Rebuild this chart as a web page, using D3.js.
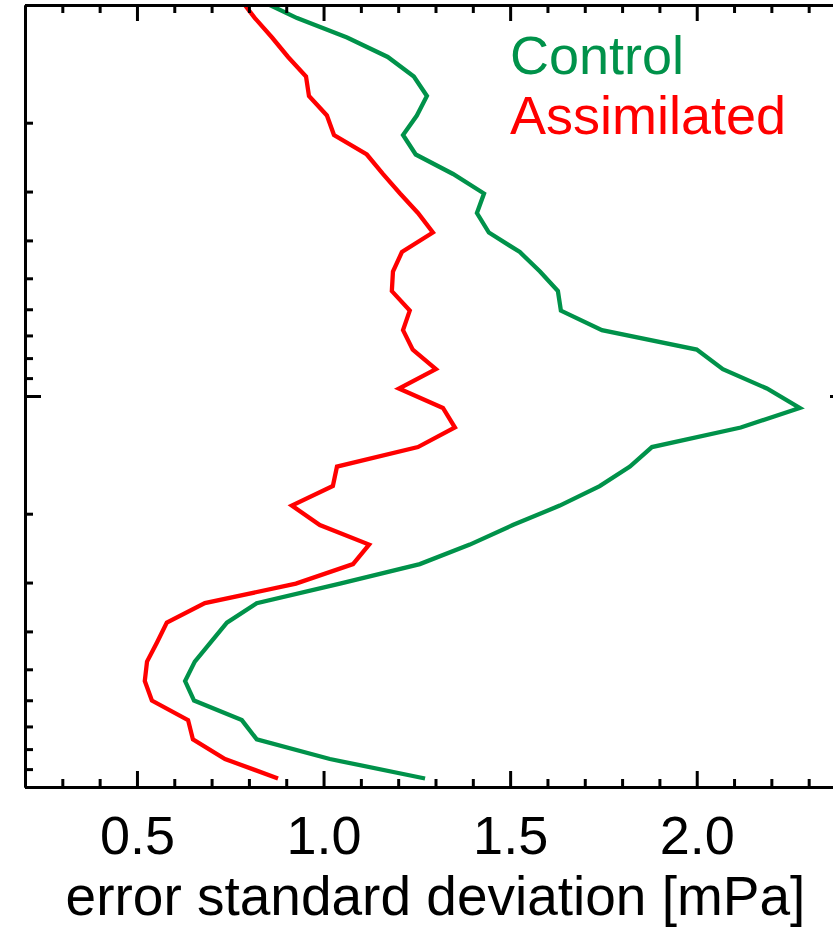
<!DOCTYPE html>
<html>
<head>
<meta charset="utf-8">
<script src="https://cdn.jsdelivr.net/npm/d3@7"></script>
<style>
  body { margin: 0; background: #fff; }
  svg { display: block; font-family: "Liberation Sans", Arial, Helvetica, sans-serif; }
  .axis path, .axis line { stroke: #000; stroke-width: 3; }
</style>
</head>
<body>
<div id="chart"></div>
<script>
// Levels on the log axis (top of frame down to bottom)
const levels = [0.1, 0.108, 0.1211, 0.1358, 0.1523, 0.1709, 0.1917, 0.2150, 0.2412, 0.2705,
  0.3035, 0.3404, 0.3819, 0.4284, 0.4805, 0.5391, 0.6047, 0.6783, 0.7609, 0.8535,
  0.9568, 1.0732, 1.2040, 1.3507, 1.5150, 1.6996, 1.9066, 2.1387, 2.3991, 2.6914,
  3.0190, 3.3867, 3.7993, 4.2621, 4.7774, 5.3583, 6.0107, 6.7432, 7.5563, 8.4800, 9.512];

// error standard deviation [mPa]
const control = [0.856, 0.929, 1.063, 1.172, 1.242, 1.277, 1.250, 1.213, 1.247, 1.347,
  1.430, 1.411, 1.443, 1.526, 1.580, 1.628, 1.636, 1.746, 2.000, 2.070,
  2.188, 2.276, 2.118, 1.880, 1.821, 1.740, 1.633, 1.507, 1.392, 1.258,
  1.044, 0.821, 0.741, 0.698, 0.655, 0.629, 0.653, 0.781, 0.821, 1.017, 1.272];

const assimilated = [0.789, 0.816, 0.862, 0.905, 0.953, 0.961, 1.009, 1.028, 1.116, 1.159,
  1.205, 1.253, 1.293, 1.210, 1.186, 1.183, 1.231, 1.213, 1.239, 1.301,
  1.202, 1.320, 1.352, 1.253, 1.036, 1.025, 0.915, 0.990, 1.122, 1.079,
  0.926, 0.682, 0.580, 0.554, 0.527, 0.521, 0.540, 0.637, 0.650, 0.736, 0.878];

const seriesNames = ["Control", "Assimilated"];
const seriesColors = ["#00924a", "#ff0000"];

const xMajor = [0.5, 1.0, 1.5, 2.0];
const xMinor = [0.3, 0.4, 0.6, 0.7, 0.8, 0.9, 1.1, 1.2, 1.3, 1.4, 1.6, 1.7, 1.8, 1.9, 2.1, 2.2, 2.3];
const yMajor = [0.1, 1, 10];
const yMinor = [0.2, 0.3, 0.4, 0.5, 0.6, 0.7, 0.8, 0.9, 2, 3, 4, 5, 6, 7, 8, 9];

// Frame (right edge lies just outside the visible page)
const W = 833, H = 927;
const frame = { left: 25, right: 846, top: 5, bottom: 787 };

const svg = d3.select("#chart").append("svg")
  .attr("width", W)
  .attr("height", H);

const x = d3.scaleLinear().domain([0.2, 2.4]).range([frame.left, frame.right]);
const y = d3.scaleLog().domain([0.1, 10]).range([frame.top, frame.bottom]);

// clip lines to the frame
svg.append("clipPath").attr("id", "plotclip")
  .append("rect")
    .attr("x", frame.left).attr("y", frame.top)
    .attr("width", frame.right - frame.left).attr("height", frame.bottom - frame.top);

const line = d3.line()
  .x(d => x(d[0]))
  .y(d => y(d[1]));

[control, assimilated].forEach((vals, i) => {
  svg.append("path")
    .datum(vals.map((v, j) => [v, levels[j]]))
    .attr("clip-path", "url(#plotclip)")
    .attr("fill", "none")
    .attr("stroke", seriesColors[i])
    .attr("stroke-width", 4.3)
    .attr("stroke-linejoin", "miter")
    .attr("d", line);
});

// ticks, all pointing into the plot
function ticks(axisFn, scale, values, size, transform) {
  svg.append("g")
    .attr("class", "axis")
    .attr("transform", transform)
    .call(axisFn(scale).tickValues(values).tickSizeInner(-size).tickSizeOuter(0).tickFormat(""));
}
ticks(d3.axisBottom, x, xMinor, 8, `translate(0,${frame.bottom})`);
ticks(d3.axisBottom, x, xMajor, 16, `translate(0,${frame.bottom})`);
ticks(d3.axisTop, x, xMinor, 8, `translate(0,${frame.top})`);
ticks(d3.axisTop, x, xMajor, 16, `translate(0,${frame.top})`);
ticks(d3.axisLeft, y, yMinor, 8, `translate(${frame.left},0)`);
ticks(d3.axisLeft, y, yMajor, 16, `translate(${frame.left},0)`);
ticks(d3.axisRight, y, yMinor, 8, `translate(${frame.right},0)`);
ticks(d3.axisRight, y, yMajor, 16, `translate(${frame.right},0)`);

// x tick labels
const xLab = svg.append("g")
  .attr("transform", `translate(0,${frame.bottom})`)
  .call(d3.axisBottom(x).tickValues(xMajor).tickSize(0).tickFormat(d3.format(".1f")));
xLab.select(".domain").remove();
xLab.selectAll("text")
  .attr("dy", null)
  .attr("y", 67)
  .attr("fill", "#000")
  .style("font-size", "54px")
  .style("font-family", "'Liberation Sans', Arial, sans-serif");

// x axis title
svg.append("text")
  .attr("x", (frame.left + frame.right) / 2)
  .attr("y", 915)
  .attr("text-anchor", "middle")
  .style("font-size", "55px")
  .text("error standard deviation [mPa]");

// legend
svg.selectAll(".legend")
  .data(seriesNames)
  .enter().append("text")
    .attr("class", "legend")
    .attr("x", 510)
    .attr("y", (d, i) => 73.5 + i * 60.5)
    .attr("fill", (d, i) => seriesColors[i])
    .style("font-size", "54px")
    .text(d => d);
</script>
</body>
</html>
